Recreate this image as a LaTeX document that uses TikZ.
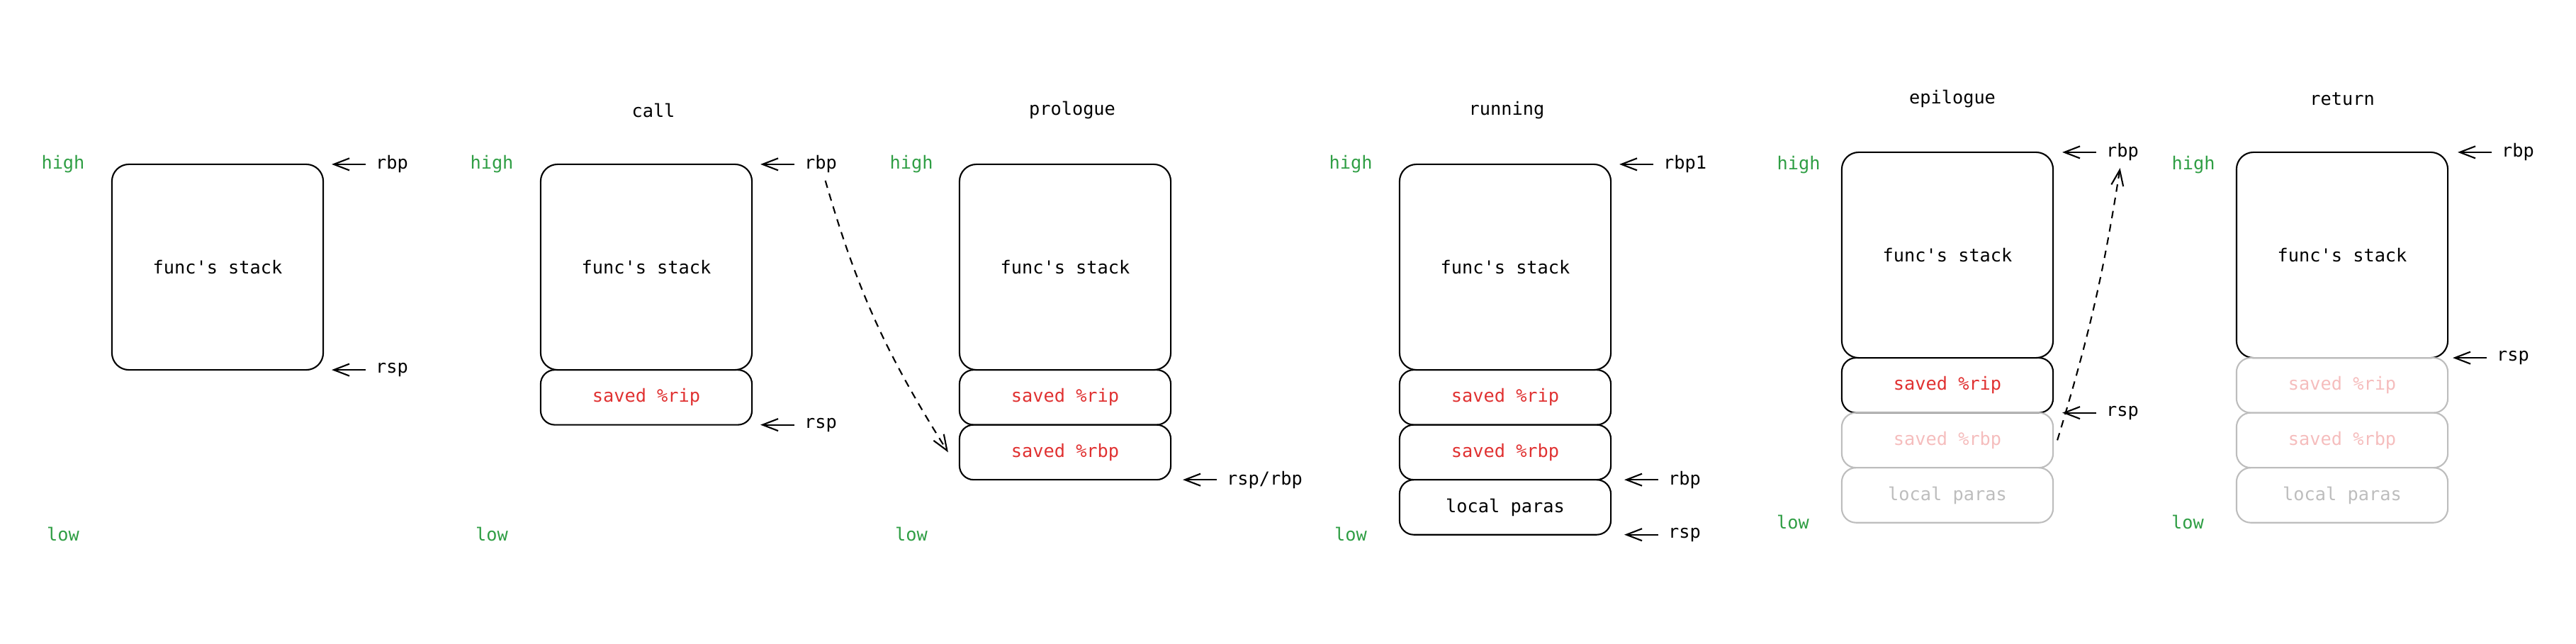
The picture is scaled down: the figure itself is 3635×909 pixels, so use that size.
\documentclass[tikz,border=0pt]{standalone}
\usepackage{fontspec}
\setmonofont{DejaVu Sans Mono}
\usepackage{tikz}
\usetikzlibrary{arrows.meta,positioning}
\definecolor{hiGreen}{HTML}{2F9E44}
\definecolor{regRed}{HTML}{E03131}
\definecolor{fadeRed}{HTML}{F5BDBD}
\definecolor{fadeGray}{HTML}{BDBDBD}

\begin{document}
\begin{tikzpicture}[x=0.01cm,y=-0.01cm,
	font=\ttfamily\fontsize{7.2}{8.6}\selectfont,
	line width=0.6pt,
	>={Straight Barb[length=2.2mm,width=1.7mm]},
	stack/.style={draw,rounded corners=0.24cm,minimum width=2.98cm,minimum height=2.9cm,inner sep=0pt,outer sep=0pt},
	slot/.style={draw,rounded corners=0.2cm,minimum width=2.98cm,minimum height=0.775cm,inner sep=0pt,outer sep=0pt},
	reg/.style={slot,text=regRed},
	oldreg/.style={slot,draw=fadeGray,text=fadeRed},
	oldvar/.style={slot,draw=fadeGray,text=fadeGray},
	level/.style={text=hiGreen},
	ptr/.style={inner xsep=0.13cm,inner ysep=0.04cm},
	jump/.style={->,dash pattern=on 3pt off 2.4pt}]
	\useasboundingbox (0,0) rectangle (3635,909);
	% Titel
		\node (call) at (922,156) {call};
		\node (pro) at (1513,156) {prologue};
		\node (run) at (2126,156) {running};
		\node (epi) at (2755,140) {epilogue};
		\node (ret) at (3305,140) {return};
	% high / low
		\node (h1) at (89,232) [level] {high};
		\node (l1) at (89,754) [level] {low};
		\node (h2) at (694,232) [level] {high};
		\node (l2) at (694,754) [level] {low};
		\node (h3) at (1286,232) [level] {high};
		\node (l3) at (1286,754) [level] {low};
		\node (h4) at (1906,232) [level] {high};
		\node (l4) at (1906,754) [level] {low};
		\node (h5) at (2538,233) [level] {high};
		\node (l5) at (2530,737) [level] {low};
		\node (h6) at (3095,233) [level] {high};
		\node (l6) at (3087,737) [level] {low};
	% Stapel
		\node (f1) at (307,377) [stack] {func's stack};
		\node (f2) at (912,377) [stack] {func's stack};
		\node (r2) [reg, below=0pt of f2] {saved \%rip};
		\node (f3) at (1503,377) [stack] {func's stack};
		\node (r3) [reg, below=0pt of f3] {saved \%rip};
		\node (b3) [reg, below=0pt of r3] {saved \%rbp};
		\node (f4) at (2124,377) [stack] {func's stack};
		\node (r4) [reg, below=0pt of f4] {saved \%rip};
		\node (b4) [reg, below=0pt of r4] {saved \%rbp};
		\node (v4) [slot, below=0pt of b4] {local paras};
		\node (f5) at (2748,360) [stack] {func's stack};
		\node (r5) [reg, below=0pt of f5] {saved \%rip};
		\node (b5) [oldreg, below=0pt of r5] {saved \%rbp};
		\node (v5) [oldvar, below=0pt of b5] {local paras};
		\node (f6) at (3305,360) [stack] {func's stack};
		\node (r6) [oldreg, below=0pt of f6] {saved \%rip};
		\node (b6) [oldreg, below=0pt of r6] {saved \%rbp};
		\node (v6) [oldvar, below=0pt of b6] {local paras};
	% Zeiger
		\coordinate (a1) at ([xshift=0.12cm]f1.north east);
		\coordinate (s1) at ([xshift=0.12cm]f1.south east);
		\coordinate (a2) at ([xshift=0.12cm]f2.north east);
		\coordinate (s2) at ([xshift=0.12cm]r2.south east);
		\coordinate (s3) at ([xshift=0.17cm]b3.south east);
		\coordinate (a4) at ([xshift=0.12cm]f4.north east);
		\coordinate (b4p) at ([xshift=0.19cm]b4.south east);
		\coordinate (s4) at ([xshift=0.19cm]v4.south east);
		\coordinate (a5) at ([xshift=0.13cm]f5.north east);
		\coordinate (s5) at ([xshift=0.13cm]r5.south east);
		\coordinate (a6) at ([xshift=0.14cm]f6.north east);
		\coordinate (s6) at ([xshift=0.07cm]f6.south east);
		\node (pa1) [ptr, right=0.48cm of a1] {rbp};
		\node (ps1) [ptr, right=0.48cm of s1] {rsp};
		\node (pa2) [ptr, right=0.48cm of a2] {rbp};
		\node (ps2) [ptr, right=0.48cm of s2] {rsp};
		\node (ps3) [ptr, right=0.48cm of s3] {rsp/rbp};
		\node (pa4) [ptr, right=0.48cm of a4] {rbp1};
		\node (pb4) [ptr, right=0.48cm of b4p] {rbp};
		\node (ps4) [ptr, right=0.48cm of s4] {rsp};
		\node (pa5) [ptr, right=0.48cm of a5] {rbp};
		\node (ps5) [ptr, right=0.48cm of s5] {rsp};
		\node (pa6) [ptr, right=0.48cm of a6] {rbp};
		\node (ps6) [ptr, right=0.48cm of s6] {rsp};
	% Pfeile
		\draw[->] (pa1) edge (a1);
		\draw[->] (ps1) edge (s1);
		\draw[->] (pa2) edge (a2);
		\draw[->] (ps2) edge (s2);
		\draw[->] (ps3) edge (s3);
		\draw[->] (pa4) edge (a4);
		\draw[->] (pb4) edge (b4p);
		\draw[->] (ps4) edge (s4);
		\draw[->] (pa5) edge (a5);
		\draw[->] (ps5) edge (s5);
		\draw[->] (pa6) edge (a6);
		\draw[->] (ps6) edge (s6);
	% gestrichelt
		\coordinate (d3) at ([xshift=-0.16cm]b3.west);
		\coordinate (d5) at ([xshift=0.06cm]b5.east);
		\draw[jump, shorten <=0.06cm] (pa2) to[bend right=8] (d3);
		\draw[jump, shorten >=0.05cm] (d5) to[bend right=4] (pa5);
	\end{tikzpicture}
\end{document}
